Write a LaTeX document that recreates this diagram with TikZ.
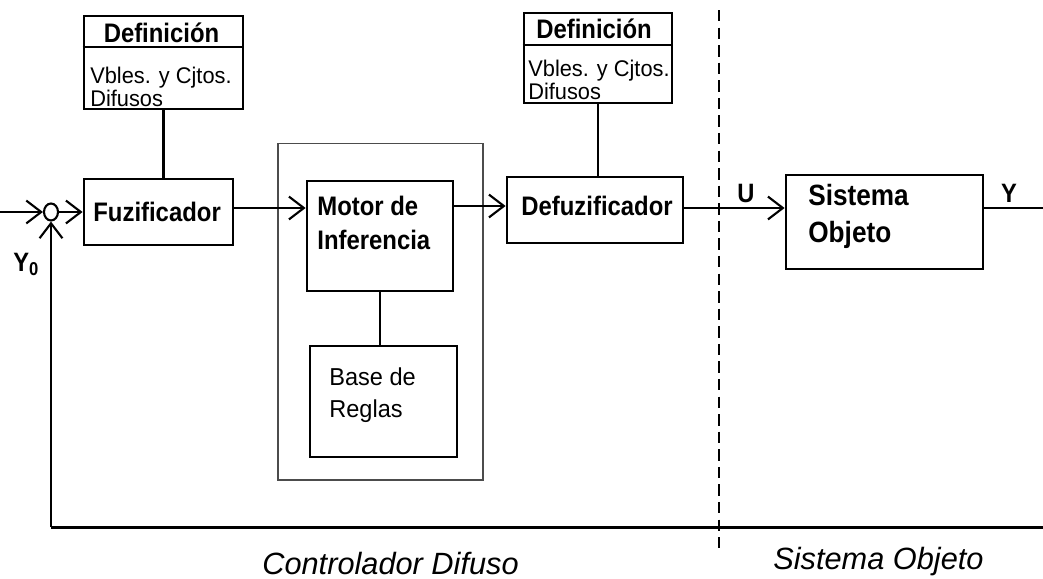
\documentclass[tikz,border=0pt]{standalone}
\usepackage{fontspec}
\setmainfont{Liberation Sans}
\usetikzlibrary{arrows.meta,calc,shapes.geometric}
\newcommand\vstr[1]{\scalebox{1}[1.12]{#1}}
\newcommand\vsreg[1]{\scalebox{1}[1.04]{#1}}
\newcommand\fbold{\fontsize{13.6}{16}\selectfont\bfseries}
\newcommand\fbig{\fontsize{14.9}{17}\selectfont\bfseries}
\newcommand\freg{\fontsize{12.4}{14}\selectfont}
\newcommand\fbase{\fontsize{13.4}{15}\selectfont}
\newcommand\fital{\fontsize{17.5}{20}\selectfont\itshape}
\newcommand\flab{\fontsize{13.5}{15}\selectfont\bfseries}
\begin{document}
\begin{tikzpicture}[x=0.02cm,y=-0.02cm,
  box/.style={draw,line width=1.6pt,inner sep=0pt},
  conn/.style={line width=1.2pt},
  arr/.style={line width=1.2pt,-{Straight Barb[length=8.5pt,width=13pt,line width=1.2pt]}},
  txt/.style={inner sep=0pt,anchor=base west},
  ctxt/.style={inner sep=0pt,anchor=base}]
\useasboundingbox (0,0) rectangle (1043,578);
% gray frame
\node[draw=black!70,line width=0.6pt,minimum width=4.10cm,minimum height=6.74cm,inner sep=0pt] (frame) at (380.5,311.5) {};
% boxes
\node[box,minimum width=3.18cm,minimum height=1.86cm] (def1) at (163.5,62.5) {};
\node[box,minimum width=2.98cm,minimum height=1.32cm] (fuz) at (158.5,212) {};
\node[box,minimum width=2.92cm,minimum height=2.20cm] (motor) at (380,236) {};
\node[box,minimum width=2.94cm,minimum height=2.22cm] (base) at (383.5,401.5) {};
\node[box,minimum width=3.52cm,minimum height=1.32cm] (def) at (595,210) {};
\node[box,minimum width=2.96cm,minimum height=1.80cm] (def2) at (598,58) {};
\node[box,minimum width=3.94cm,minimum height=1.88cm] (sis) at (884.5,222) {};
\node[draw,line width=1.2pt,ellipse,minimum width=0.28cm,minimum height=0.34cm,inner sep=0pt] (sum) at (51,212) {};
% dividers in definition boxes
\draw[line width=1.6pt] (def1.west |- 0,47) -- (def1.east |- 0,47);
\draw[line width=1.6pt] (def2.west |- 0,45) -- (def2.east |- 0,45);
% texts
\node[ctxt] (t1) at (161.5,42) {\vstr{\fbold Definición}};
\node[txt] (t2) at (90,83) {\vsreg{\freg Vbles. y Cjtos.}};
\node[txt] (t3) at (90,106) {\vsreg{\freg Difusos}};
\node[ctxt] (t4) at (594,38) {\vstr{\fbold Definición}};
\node[txt] (t5) at (528,76) {\vsreg{\freg Vbles. y Cjtos.}};
\node[txt] (t6) at (528,99) {\vsreg{\freg Difusos}};
\node[txt] (t7) at (93,221) {\vstr{\fbold Fuzificador}};
\node[txt] (t8) at (317,215) {\vstr{\fbold Motor de}};
\node[txt] (t9) at (317,249) {\vstr{\fbold Inferencia}};
\node[txt] (t10) at (329,385) {\vsreg{\fbase Base de}};
\node[txt] (t11) at (329,417) {\vsreg{\fbase Reglas}};
\node[txt] (t12) at (521,215) {\vstr{\fbold Defuzificador}};
\node[txt] (t13) at (808,205) {\vstr{\fbig Sistema}};
\node[txt] (t14) at (808,242) {\vstr{\fbig Objeto}};
\node[txt] (t15) at (262,574) {\fital Controlador Difuso};
\node[txt] (t16) at (773,569) {\fital Sistema Objeto};
\node[ctxt] (lu) at (746,202) {\vstr{\flab U}};
\node[ctxt] (ly) at (1009,202) {\vstr{\flab Y}};
\node[txt] (ly0) at (13,271) {\vstr{\flab Y\textsubscript{0}}};
% coordinates
\coordinate (in) at (0,212);
\coordinate (out) at (1043,208);
\coordinate (fb) at (51,527);
\coordinate (fbe) at (1043,527);
\coordinate (dtop) at (719,10);
\coordinate (dbot) at (719,548);
\coordinate (fo) at (fuz.east |- 0,208);
\coordinate (mi) at (motor.west |- 0,208);
\coordinate (dout) at (def.east |- 0,208);
\coordinate (sin) at (sis.west |- 0,208);
% connectors
\draw[conn] (def1.south) -- (def1.south |- fuz.north);
\draw[conn] (def2.south) -- (def2.south |- def.north);
\draw[conn] (motor.south) -- (motor.south |- base.north);
\draw[arr] (in) -- (sum.west);
\draw[arr] (sum.east) -- (fuz.west |- sum.east);
\draw[arr] (fo) -- (mi);
\draw[arr] (motor.east |- 0,206) -- (def.west |- 0,206);
\draw[arr] (dout) -- (sin);
\draw[conn] (sis.east |- out) -- (out);
\draw[arr] (fb) -- (sum.south);
\draw[line width=1.7pt] (fb) -- (fbe);
\draw[line width=1.1pt,dash pattern=on 6.5pt off 3.5pt] (dtop) -- (dbot);
\end{tikzpicture}
\end{document}
